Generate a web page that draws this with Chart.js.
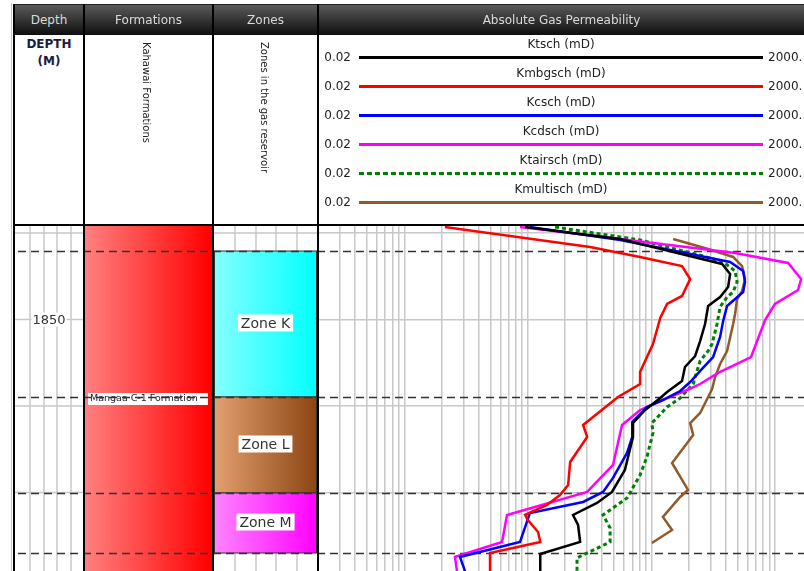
<!DOCTYPE html>
<html>
<head>
<meta charset="utf-8">
<script src="https://cdn.jsdelivr.net/npm/chart.js"></script>
<style>
  body { margin: 0; background: #fff; }
  #wrap { position: relative; width: 804px; height: 571px; overflow: hidden; background: #fff; font-family: "DejaVu Sans", sans-serif; }
  #c { position: absolute; left: 0; top: 0; }
  .bar { position: absolute; top: 4px; height: 31px; box-sizing: border-box; border-left: 2px solid #000; border-top: 1px solid #222;
         background: linear-gradient(#5a5a5a, #0e0e0e); color: #dadada; font-size: 12px; line-height: 30px; text-align: center; }
  .cell { position: absolute; top: 35px; height: 189px; box-sizing: border-box; border-left: 2px solid #000; background: #fff; }
  .vtxt { position: absolute; top: 42px; writing-mode: vertical-rl; font-size: 10px; line-height: 12px; color: #222; }
  .lg { position: absolute; font-size: 12px; line-height: 16px; color: #222; }
</style>
</head>
<body>
<div id="wrap">
  <canvas id="c" width="804" height="571"></canvas>
  <div style="position:absolute;left:11px;top:3px;width:1px;height:568px;background:#b9c6d6"></div>
  <div class="bar" style="left:13px;width:70px">Depth</div>
  <div class="bar" style="left:83px;width:129px">Formations</div>
  <div class="bar" style="left:212px;width:105px">Zones</div>
  <div class="bar" style="left:317px;width:487px">Absolute Gas Permeability</div>
  <div class="cell" style="left:13px;width:70px"></div>
  <div class="cell" style="left:83px;width:129px"></div>
  <div class="cell" style="left:212px;width:105px"></div>
  <div class="cell" id="permHead" style="left:317px;width:487px"></div>
  <div style="position:absolute;left:15px;top:36px;width:68px;text-align:center;font-weight:bold;font-size:12px;line-height:17px;color:#1c1c3c">DEPTH<br>(M)</div>
  <div class="vtxt" style="left:140px">Kahawai Formations</div>
  <div class="vtxt" style="left:258px">Zones in the gas reservoir</div>
  <div style="position:absolute;left:13px;top:224px;width:791px;height:2px;background:#000"></div>
</div>
<script>
// depth track
const depthGrid = [1840, 1850, 1860, 1870];
const depthLabels = [1850];
const markerDepths = [1842.08, 1858.96, 1870.06, 1877.0];

// formations and zones
const formationName = 'Mangaa C-1 Formation';
const formationMarker = 1858.96;
const zoneNames = ['Zone K', 'Zone L', 'Zone M'];
const zoneTops = [1842.08, 1858.96, 1870.06];
const zoneBases = [1858.96, 1870.06, 1877.0];

// legend scale text
const scaleLeft = '0.02';
const scaleRight = '2000.';

// curves (depth in m, permeability in mD)
const seriesNames = ['Ktsch (mD)', 'Kmbgsch (mD)', 'Kcsch (mD)', 'Kcdsch (mD)', 'Ktairsch (mD)', 'Kmultisch (mD)'];

const ktschDepth = [1839.31, 1840.69, 1843.58, 1844.74, 1846.24, 1847.40, 1848.44, 1850.52, 1852.49, 1854.22, 1855.49, 1857.11, 1858.38, 1859.08, 1860.46, 1861.97, 1863.58, 1867.40, 1869.94, 1871.21, 1872.60, 1873.76, 1875.72, 1877.11, 1879.1];
const ktschVal = [0.95, 5.6, 37.4, 43.4, 41.8, 36.0, 28.8, 27.2, 24.8, 22.6, 18.7, 17.7, 13.4, 11.8, 8.9, 7.1, 7.1, 6.1, 4.8, 3.63, 2.32, 2.55, 2.65, 1.26, 1.26];

const kmbgschDepth = [1839.31, 1841.62, 1842.77, 1843.82, 1845.32, 1847.28, 1848.21, 1849.83, 1852.83, 1854.80, 1856.07, 1857.46, 1858.96, 1862.20, 1863.58, 1866.47, 1869.13, 1870.29, 1871.45, 1872.60, 1873.18, 1874.57, 1875.72, 1877.00, 1879.1];
const kmbgschVal = [0.213, 3.19, 8.1, 17.7, 20.6, 17.7, 13.4, 11.8, 10.3, 8.9, 8.1, 8.1, 5.37, 2.8, 3.02, 2.2, 2.12, 1.82, 1.43, 0.95, 1.0, 1.21, 1.26, 0.494, 0.494];

const kcschDepth = [1839.31, 1840.81, 1843.35, 1844.39, 1845.66, 1846.82, 1847.63, 1848.44, 1850.17, 1852.02, 1854.34, 1855.72, 1857.23, 1858.27, 1859.31, 1860.12, 1861.85, 1863.58, 1865.43, 1868.32, 1869.94, 1871.10, 1872.37, 1875.72, 1877.46, 1879.1];
const kcschVal = [1.04, 5.6, 43.4, 55.3, 57.3, 55.3, 47.6, 41.0, 38.1, 36.0, 31.6, 25.7, 20.6, 17.1, 12.4, 9.2, 7.0, 7.0, 6.35, 4.89, 4.06, 2.8, 1.04, 0.864, 0.282, 0.31];

const kcdschDepth = [1839.31, 1840.69, 1842.31, 1843.47, 1845.32, 1846.59, 1848.21, 1850.06, 1854.34, 1856.18, 1857.46, 1858.15, 1859.08, 1860.46, 1862.20, 1866.82, 1869.94, 1872.60, 1875.72, 1877.46, 1879.1];
const kcdschVal = [0.864, 5.6, 47.6, 128, 163, 154, 100, 83.3, 64.1, 34.7, 24.8, 19.5, 13.4, 8.1, 5.79, 4.89, 3.02, 0.678, 0.618, 0.257, 0.267];

const ktairschDepth = [1839.31, 1840.81, 1842.66, 1843.35, 1844.39, 1845.66, 1846.82, 1847.40, 1848.55, 1850.52, 1852.83, 1853.64, 1854.80, 1855.95, 1857.46, 1859.08, 1860.12, 1861.97, 1863.12, 1865.90, 1867.98, 1870.64, 1872.60, 1874.10, 1875.72, 1877.57, 1879.1];
const ktairschVal = [1.66, 8.1, 26.2, 38.1, 47.6, 49.4, 45.9, 41.0, 36.0, 34.0, 31.0, 28.8, 24.8, 23.4, 21.8, 17.1, 13.4, 10.1, 10.3, 9.2, 8.1, 6.35, 4.06, 4.63, 4.63, 2.5, 2.5];

const kmultischDepth = [1840.69, 1841.85, 1842.77, 1843.82, 1845.32, 1846.71, 1847.63, 1849.36, 1850.52, 1853.64, 1855.14, 1856.65, 1858.03, 1858.96, 1860.81, 1861.97, 1863.35, 1864.28, 1866.59, 1869.71, 1870.52, 1872.83, 1874.34, 1875.84];
const kmultischVal = [15.0, 28.8, 45.9, 54.2, 57.3, 54.2, 49.4, 47.6, 45.9, 41.0, 36.0, 32.8, 31.0, 28.8, 24.8, 20.6, 21.8, 19.5, 14.7, 19.8, 17.1, 12.4, 14.7, 10.1];

// styles
const seriesColors = ['#000000', '#ff0000', '#0000ff', '#ff00ff', '#008000', '#915a2a'];
const seriesDash = [[], [], [], [], [4, 3], []];
const zoneColors = [['#85ffff', '#00ffff'], ['#e3a070', '#8b4513'], ['#ff85ff', '#ff00ff']];

const allDepths = [ktschDepth, kmbgschDepth, kcschDepth, kcdschDepth, ktairschDepth, kmultischDepth];
const allVals = [ktschVal, kmbgschVal, kcschVal, kcdschVal, ktairschVal, kmultischVal];

// log grid lines, every 1..9 x 10^n
const logGrid = [];
for (let e = -2; e <= 2; e++) {
  for (let k = 1; k <= 9; k++) {
    const v = k * Math.pow(10, e);
    if (v > 0.02 && v < 172) logGrid.push(v);
  }
}

// legend in the track header
const head = document.getElementById('wrap');
seriesNames.forEach(function(name, i) {
  const ly = 57 + 29 * i;
  let d = document.createElement('div');
  d.className = 'lg';
  d.style.cssText = 'left:318px;width:486px;text-align:center;top:' + (ly - 21) + 'px';
  d.textContent = name;
  head.appendChild(d);
  d = document.createElement('div');
  d.className = 'lg';
  d.style.cssText = 'left:300px;width:51px;text-align:right;top:' + (ly - 8) + 'px';
  d.textContent = scaleLeft;
  head.appendChild(d);
  d = document.createElement('div');
  d.className = 'lg';
  d.style.cssText = 'left:768px;top:' + (ly - 8) + 'px';
  d.textContent = scaleRight;
  head.appendChild(d);
  d = document.createElement('div');
  let bg = seriesColors[i];
  if (seriesDash[i].length) {
    bg = 'repeating-linear-gradient(90deg,' + seriesColors[i] + ' 0 5px, transparent 5px 8px)';
  }
  d.style.cssText = 'position:absolute;left:359px;width:404px;height:3px;top:' + (ly - 1) + 'px;background:' + bg;
  head.appendChild(d);
});

// left tracks drawn from the depth scale
const tracksPlugin = {
  id: 'tracks',
  beforeDatasetsDraw(chart) {
    const c = chart.ctx;
    const ys = chart.scales.y;
    const top = chart.chartArea.top;
    const bot = chart.chartArea.bottom;
    c.save();

    // grids in depth and zone columns
    c.strokeStyle = '#c8c8c8';
    c.lineWidth = 1.5;
    [30, 44, 57, 71, 235, 256, 276, 297].forEach(function(x) {
      c.beginPath(); c.moveTo(x, top); c.lineTo(x, bot); c.stroke();
    });
    depthGrid.forEach(function(d) {
      const y = ys.getPixelForValue(d);
      c.beginPath(); c.moveTo(15, y); c.lineTo(83, y); c.moveTo(214, y); c.lineTo(317, y); c.stroke();
    });

    // formation
    let g = c.createLinearGradient(85, 0, 212, 0);
    g.addColorStop(0, '#ff8080');
    g.addColorStop(1, '#ff0000');
    c.fillStyle = g;
    c.fillRect(85, top, 127, bot - top);

    // zones
    zoneNames.forEach(function(name, i) {
      const y0 = ys.getPixelForValue(zoneTops[i]);
      const y1 = ys.getPixelForValue(zoneBases[i]);
      g = c.createLinearGradient(214, 0, 317, 0);
      g.addColorStop(0, zoneColors[i][0]);
      g.addColorStop(1, zoneColors[i][1]);
      c.fillStyle = g;
      c.fillRect(214, y0, 103, y1 - y0);
      c.strokeStyle = '#333';
      c.lineWidth = 1;
      c.strokeRect(214.5, y0, 102, y1 - y0);
      c.font = '14px "DejaVu Sans"';
      const tw = c.measureText(name).width;
      const ym = (y0 + y1) / 2 - 1;
      c.fillStyle = '#fff';
      c.fillRect(265.5 - tw / 2 - 3, ym - 8.5, tw + 6, 17);
      c.fillStyle = '#333';
      c.textAlign = 'center';
      c.textBaseline = 'middle';
      c.fillText(name, 265.5, ym + 1);
    });

    // depth labels
    c.font = '13px "DejaVu Sans"';
    depthLabels.forEach(function(d) {
      const y = ys.getPixelForValue(d);
      const tw = c.measureText(String(d)).width;
      c.fillStyle = '#fff';
      c.fillRect(49 - tw / 2 - 1, y - 7, tw + 2, 14);
      c.fillStyle = '#333';
      c.fillText(String(d), 49, y + 1);
    });

    // formation label
    const fy = ys.getPixelForValue(formationMarker);
    c.fillStyle = '#fff';
    c.fillRect(88, fy - 4, 120, 12);
    c.font = '9.5px "DejaVu Sans"';
    c.fillStyle = '#223';
    c.textAlign = 'left';
    c.fillText(formationName, 90, fy + 2);

    // zone markers
    c.strokeStyle = '#333';
    c.lineWidth = 1.3;
    c.setLineDash([8, 5]);
    markerDepths.forEach(function(d) {
      const y = Math.round(ys.getPixelForValue(d)) + 0.5;
      c.beginPath(); c.moveTo(18, y); c.lineTo(804, y); c.stroke();
    });
    c.restore();
  },
  afterDraw(chart) {
    const c = chart.ctx;
    const top = chart.chartArea.top;
    c.save();
    c.fillStyle = '#000';
    [13, 83, 212, 317].forEach(function(x) { c.fillRect(x, top, 2, 571 - top); });
    c.restore();
  }
};

const ctx = document.getElementById('c').getContext('2d');
const myChart = new Chart(ctx, {
  type: 'scatter',
  data: {
    datasets: seriesNames.map(function(name, i) {
      return {
        label: name,
        data: allDepths[i].map(function(d, j) { return { x: allVals[i][j], y: d }; }),
        showLine: true,
        borderColor: seriesColors[i],
        backgroundColor: seriesColors[i],
        borderWidth: seriesDash[i].length ? 3 : 2.5,
        borderDash: seriesDash[i],
        pointRadius: 0,
        tension: 0
      };
    })
  },
  options: {
    responsive: false,
    animation: false,
    devicePixelRatio: 1,
    layout: { padding: { left: 318, top: 226, right: 0, bottom: 0 } },
    plugins: { legend: { display: false }, tooltip: { enabled: false } },
    scales: {
      x: {
        type: 'logarithmic',
        min: 0.02,
        max: 172,
        afterBuildTicks: function(s) { s.ticks = logGrid.map(function(v) { return { value: v }; }); },
        ticks: { display: false },
        grid: { color: '#c8c8c8', lineWidth: 1.5, drawTicks: false },
        border: { display: false }
      },
      y: {
        type: 'linear',
        reverse: true,
        min: 1839.19,
        max: 1879.08,
        afterBuildTicks: function(s) { s.ticks = depthGrid.map(function(v) { return { value: v }; }); },
        ticks: { display: false },
        grid: { color: '#c8c8c8', lineWidth: 1.5, drawTicks: false },
        border: { display: false }
      }
    }
  },
  plugins: [tracksPlugin]
});
</script>
</body>
</html>
